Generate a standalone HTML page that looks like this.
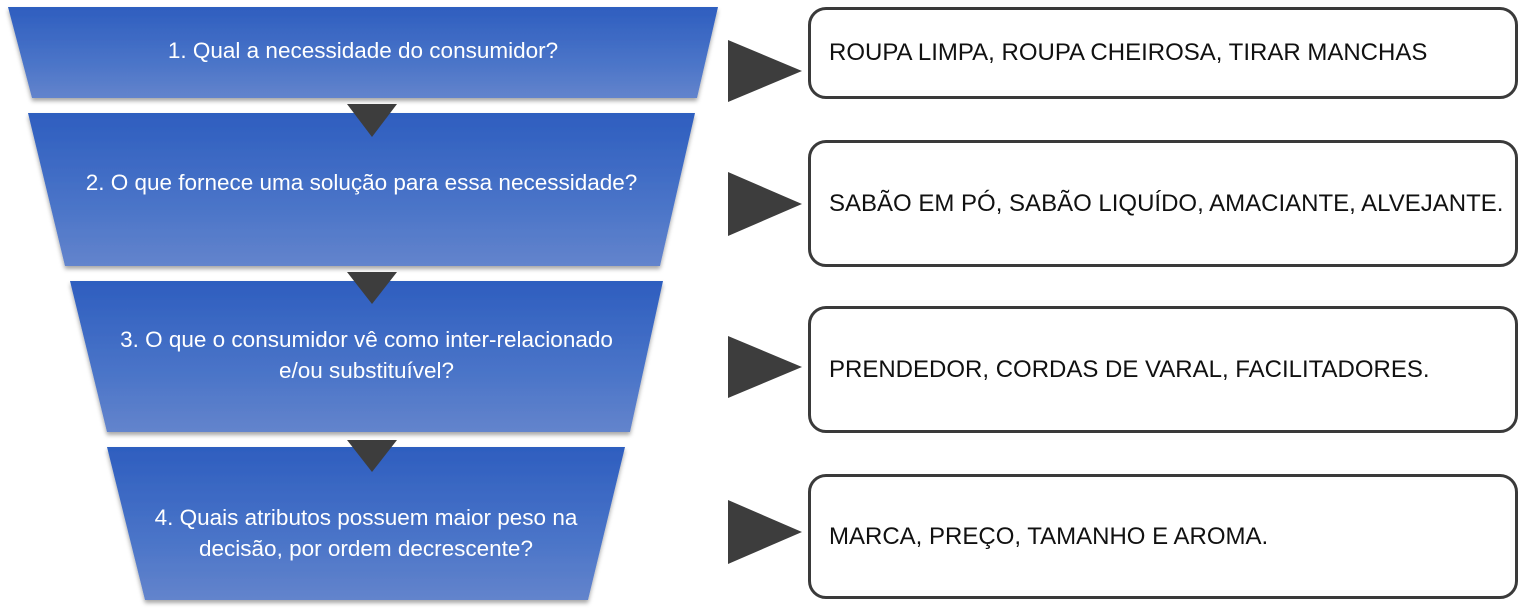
<!DOCTYPE html>
<html><head><meta charset="utf-8"><style>
body{margin:0;width:1536px;height:612px;background:#fff;position:relative;overflow:hidden;font-family:"Liberation Sans",sans-serif}
.t{position:absolute;color:#fff;font-size:22.5px;text-align:center;line-height:31px;white-space:nowrap}
.b{position:absolute;left:808px;width:710px;border:3px solid #3a3a3a;border-radius:18px;background:#fff;box-sizing:border-box;font-size:24px;color:#111;display:flex;align-items:center;padding-left:18px;white-space:nowrap}
</style></head><body>
<svg width="1536" height="612" style="position:absolute;left:0;top:0">
<defs><linearGradient id="g" x1="0" y1="0" x2="0" y2="1"><stop offset="0" stop-color="#2e5ebf"/><stop offset="0.6" stop-color="#4a74c8"/><stop offset="1" stop-color="#6384cc"/></linearGradient>
<filter id="s" x="-5%" y="-5%" width="110%" height="120%"><feDropShadow dx="0" dy="3" stdDeviation="2" flood-color="#000" flood-opacity="0.35"/></filter></defs>
<g filter="url(#s)" fill="url(#g)">
<polygon points="8,7 718,7 697,98 32,98"/>
<polygon points="28,113 695,113 660,266 65,266"/>
<polygon points="70,281 663,281 630,432 107,432"/>
<polygon points="107,447 625,447 588,600 145,600"/>
</g>
<g fill="#3d3d3d">
<polygon points="347,104 397,104 372,137"/>
<polygon points="347,272 397,272 372,304"/>
<polygon points="347,440 397,440 372,472"/>
<polygon points="728,40 802,71 728,102"/>
<polygon points="728,172 802,204 728,236"/>
<polygon points="728,336 802,367 728,398"/>
<polygon points="728,500 802,532 728,564"/>
</g>
</svg>
<div class="t" style="left:8px;width:710px;top:35px">1. Qual a necessidade do consumidor?</div>
<div class="t" style="left:28px;width:667px;top:167px">2. O que fornece uma solução para essa necessidade?</div>
<div class="t" style="left:70px;width:593px;top:324px">3. O que o consumidor vê como inter-relacionado<br>e/ou substituível?</div>
<div class="t" style="left:107px;width:518px;top:502px">4. Quais atributos possuem maior peso na<br>decisão, por ordem decrescente?</div>
<div class="b" style="top:7px;height:92px">ROUPA LIMPA, ROUPA CHEIROSA, TIRAR MANCHAS</div>
<div class="b" style="top:140px;height:127px">SABÃO EM PÓ, SABÃO LIQUÍDO, AMACIANTE, ALVEJANTE.</div>
<div class="b" style="top:306px;height:127px">PRENDEDOR, CORDAS DE VARAL, FACILITADORES.</div>
<div class="b" style="top:474px;height:125px">MARCA, PREÇO, TAMANHO E AROMA.</div>
</body></html>
